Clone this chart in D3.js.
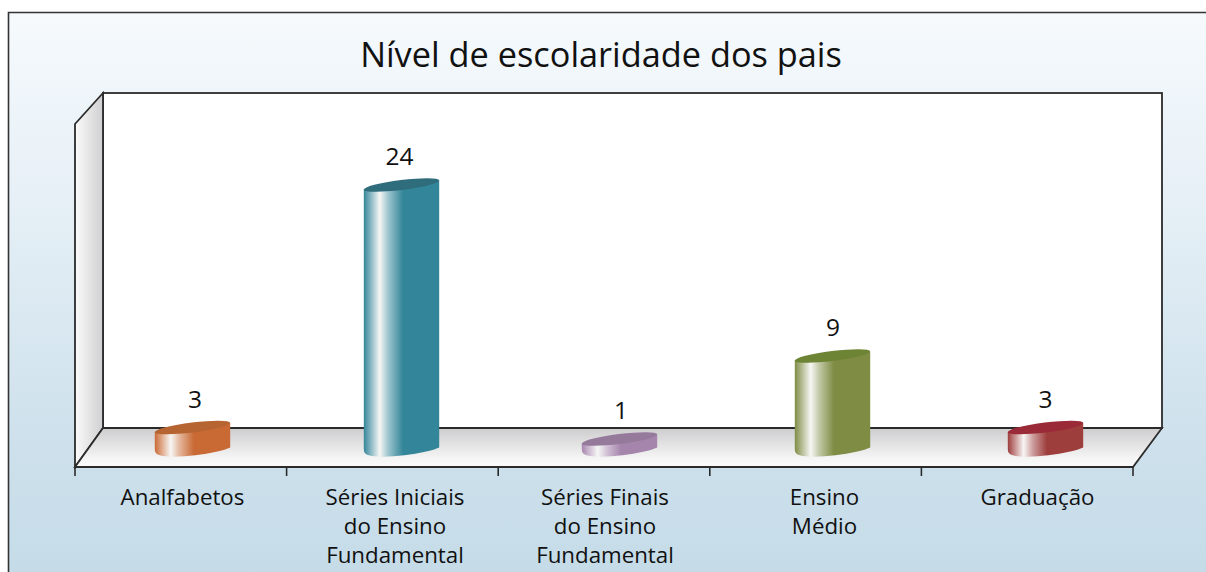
<!DOCTYPE html>
<html><head><meta charset="utf-8">
<script src="https://cdn.jsdelivr.net/npm/d3@7"></script>
<style>html,body{margin:0;padding:0;background:#fff;overflow:hidden}svg{display:block}text{font-family:"Open Sans",sans-serif;fill:#111}</style>
</head><body><svg id="c" width="1206" height="572"></svg>
<script>
const chartTitle = "Nível de escolaridade dos pais";
const categories = ["Analfabetos","Séries Iniciais do Ensino Fundamental","Séries Finais do Ensino Fundamental","Ensino Médio","Graduação"];
const categoryLines = [["Analfabetos"],["Séries Iniciais","do Ensino","Fundamental"],["Séries Finais","do Ensino","Fundamental"],["Ensino","Médio"],["Graduação"]];
const values = [3,24,1,9,3];
const bodyColors = ["#c96a35","#338699","#a685ad","#7f8c44","#9d3d3c"];
const topColors = ["#b66431","#2f6c7c","#957a9b","#6d8435","#9a2a37"];

const svg = d3.select("#c"), defs = svg.append("defs");
const W=1206,H=572, left=75, right=1133, floorY=467, backL=103, backR=1162, backT=93, backB=428, tickLen=9;
const x = d3.scaleBand().domain(categories).range([left,right]);
const barX = d3.scaleOrdinal().domain(categories).range([192.5,401.5,619.5,832.5,1045.5]);
const labelX = d3.scaleOrdinal().domain(categories).range([182.5,395,605,824.5,1037.5]);
const valueX = d3.scaleOrdinal().domain(categories).range([195,399.5,621,833,1045.5]);
const y = d3.scaleLinear().domain([1,3,9,24]).range([439,427.5,356,185]);

function lg(id,x1,y1,x2,y2,stops){const g=defs.append("linearGradient").attr("id",id).attr("x1",x1).attr("y1",y1).attr("x2",x2).attr("y2",y2);
 stops.forEach(s=>g.append("stop").attr("offset",s[0]).attr("stop-color",s[1]));}
lg("bg",0,0,0,1,[[0,"#f6fafd"],[.3,"#e8f1f7"],[.75,"#cee1ec"],[1,"#c5dce8"]]);
lg("wall",0,0,1,0,[[0,"#fbfbfb"],[1,"#cfcfd1"]]);
lg("floor",0,0,0,1,[[0,"#cdcdcf"],[.8,"#f6f6f6"],[1,"#fbfbfb"]]);
categories.forEach((c,i)=>{const base=bodyColors[i], mix=d3.interpolateRgb(base,"#fff");
 lg("b"+i,0,0,1,0,[[0,base],[.09,mix(.4)],[.21,"#f6f6f4"],[.33,mix(.5)],[.52,base],[1,base]]);});

// panel
svg.append("rect").attr("x",8).attr("y",12).attr("width",W-8).attr("height",H-12).attr("fill","url(#bg)");
svg.append("path").attr("d",`M8.5,${H}V12.5H${W}`).attr("fill","none").attr("stroke","#333").attr("stroke-width",1.6);

const line = d3.line();
svg.append("rect").attr("x",backL).attr("y",backT).attr("width",backR-backL).attr("height",backB-backT).attr("fill","#fff").attr("stroke","#2b2b2b").attr("stroke-width",1.8);
svg.append("path").attr("d",line([[left,124],[backL,backT],[backL,backB],[left,floorY]])+"Z").attr("fill","url(#wall)").attr("stroke","#2b2b2b").attr("stroke-width",1.8);
svg.append("path").attr("d",line([[left,floorY],[backL,backB],[backR,backB],[right,floorY]])+"Z").attr("fill","url(#floor)").attr("stroke","#2b2b2b").attr("stroke-width",1.8);

// axis ticks
const tickPos = d3.range(categories.length+1).map(i=>left+i*x.step());
svg.append("g").selectAll("line").data(tickPos).join("line")
 .attr("x1",d=>d).attr("x2",d=>d).attr("y1",floorY).attr("y2",floorY+tickLen).attr("stroke","#2b2b2b").attr("stroke-width",1.6);

// cylinders
const rx=38, ry=5, rot=-7, dx=37.7, dy=4.6, baseY=450;
const g = svg.append("g").selectAll("g").data(categories).join("g");
g.append("path").attr("fill",(d,i)=>`url(#b${i})`).attr("d",(d,i)=>{const c=barX(d),t=y(values[i]);
 return `M${c-dx},${t+dy}L${c-dx},${baseY+dy-5}Q${c-dx},${baseY+dy} ${c-dx+6},${baseY+dy+1}A${rx} ${ry+1} ${rot} 0 0 ${c+dx},${baseY-dy+2}L${c+dx},${t-dy}Z`;});
g.append("ellipse").attr("fill",(d,i)=>topColors[i]).attr("rx",rx).attr("ry",ry)
 .attr("transform",(d,i)=>`translate(${barX(d)},${y(values[i])}) rotate(${rot})`);

// value labels
svg.append("g").selectAll("text").data(categories).join("text")
 .attr("x",d=>valueX(d)).attr("y",(d,i)=>y(values[i])-20).attr("text-anchor","middle").attr("font-size",24.5).text((d,i)=>values[i]);

// category labels
svg.append("g").selectAll("text").data(categories).join("text").attr("text-anchor","middle").attr("font-size",22.3)
 .each(function(d,i){d3.select(this).selectAll("tspan").data(categoryLines[i]).join("tspan").attr("x",labelX(d)).attr("y",(l,j)=>505+j*29).text(l=>l);});

svg.append("text").attr("x",601).attr("y",67).attr("text-anchor","middle").attr("font-size",34.3).text(chartTitle);
</script></body></html>
